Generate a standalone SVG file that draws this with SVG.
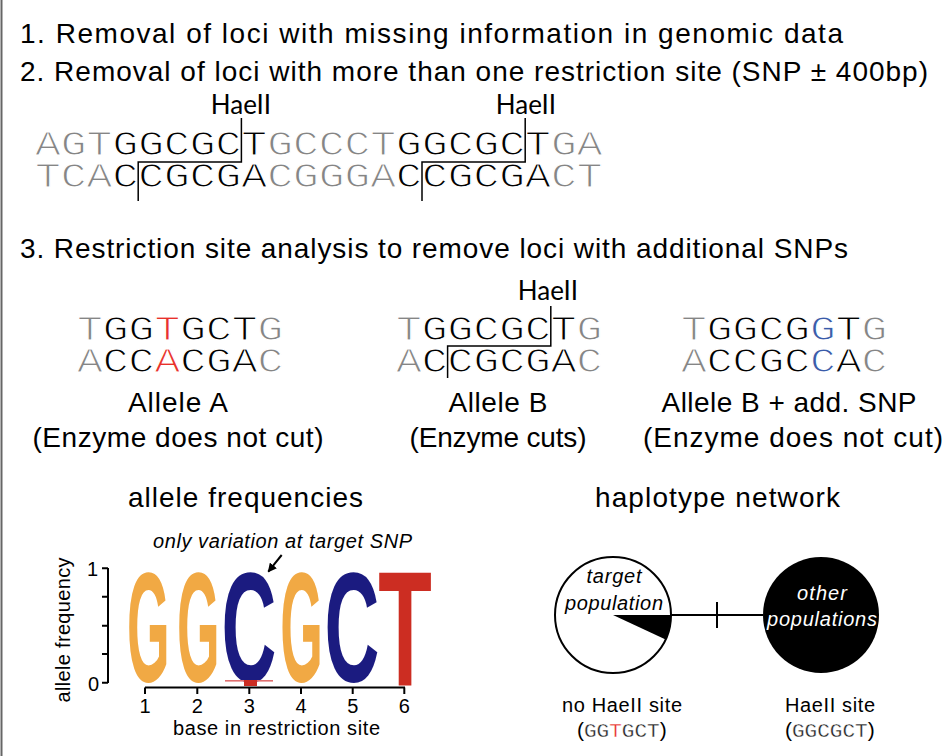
<svg xmlns="http://www.w3.org/2000/svg" width="952" height="756" viewBox="0 0 952 756">
<defs>
<style>
.h{font-family:"Liberation Sans",Arial,sans-serif;font-size:28px;fill:#000}
.lab{font-family:"Liberation Sans",Arial,sans-serif;font-size:28px;fill:#000;text-anchor:middle}
.sm{font-family:"Liberation Sans",Arial,sans-serif;font-size:20px;fill:#000}
.it{font-family:"Liberation Sans",Arial,sans-serif;font-size:20px;font-style:italic;text-anchor:middle}
.mono{font-family:"Liberation Mono","Courier New",monospace;font-size:43px;stroke:#fff;stroke-width:1.4px}
.mono2{font-family:"Liberation Mono","Courier New",monospace;font-size:21px;fill:#222;stroke:#fff;stroke-width:0.35px}
.enz{font-family:Lato,"Open Sans",sans-serif;font-size:26px;text-anchor:middle;fill:#000}
.g{fill:#858585}.k{fill:#000}.r{fill:#e8302a}.b{fill:#3a5ba9}
.cut{stroke:#000;stroke-width:1.5;fill:none}
.ax{stroke:#000;stroke-width:2;fill:none}
.logo{font-family:"Liberation Sans",Arial,sans-serif;font-weight:bold;font-size:100px;text-anchor:middle}
.og{fill:#f1a944}.nv{fill:#1b1b80}.rd{fill:#cc2d22}
</style>
<marker id="ah" viewBox="0 0 10 10" refX="9" refY="5" markerWidth="9" markerHeight="9" orient="auto" markerUnits="userSpaceOnUse">
<path d="M0,0 L10,5 L0,10 z" fill="#000"/>
</marker>
</defs>
<rect x="0" y="0" width="952" height="756" fill="#fff"/>
<line x1="1.5" y1="0" x2="1.5" y2="756" stroke="#666" stroke-width="2"/>

<g id="steps">
<text class="h" x="20" y="43" textLength="823">1. Removal of loci with missing information in genomic data</text>
<text class="h" x="20" y="81" textLength="908">2. Removal of loci with more than one restriction site (SNP ± 400bp)</text>
<text class="h" x="20" y="258" textLength="828">3. Restriction site analysis to remove loci with additional SNPs</text>
</g>

<g id="sequence-two-sites">
<text class="enz" x="241" y="114">HaeII</text>
<text class="enz" x="526" y="114">HaeII</text>
<text class="mono" transform="translate(35,155) scale(1,0.81)"><tspan class="g">AGT</tspan><tspan class="k">GGCGCT</tspan><tspan class="g">GCCCT</tspan><tspan class="k">GGCGCT</tspan><tspan class="g">GA</tspan></text>
<text class="mono" transform="translate(35,187) scale(1,0.81)"><tspan class="g">TCA</tspan><tspan class="k">CCGCGA</tspan><tspan class="g">CGGGA</tspan><tspan class="k">CCGCGA</tspan><tspan class="g">CT</tspan></text>
<path class="cut" d="M241.4,118 V162 H138.2 V201"/>
<path class="cut" d="M525.2,118 V162 H422 V201"/>
</g>

<g id="allele-a">
<text class="mono" transform="translate(77,340) scale(1,0.81)"><tspan class="g">T</tspan><tspan class="k">GG</tspan><tspan class="r">T</tspan><tspan class="k">GCT</tspan><tspan class="g">G</tspan></text>
<text class="mono" transform="translate(77,372) scale(1,0.81)"><tspan class="g">A</tspan><tspan class="k">CC</tspan><tspan class="r">A</tspan><tspan class="k">CGA</tspan><tspan class="g">C</tspan></text>
<text class="lab" x="178" y="412" textLength="100">Allele A</text>
<text class="lab" x="178" y="447" textLength="291">(Enzyme does not cut)</text>
</g>

<g id="allele-b">
<text class="enz" x="548" y="300">HaeII</text>
<text class="mono" transform="translate(396,340) scale(1,0.81)"><tspan class="g">T</tspan><tspan class="k">GGCGCT</tspan><tspan class="g">G</tspan></text>
<text class="mono" transform="translate(396,372) scale(1,0.81)"><tspan class="g">A</tspan><tspan class="k">CCGCGA</tspan><tspan class="g">C</tspan></text>
<path class="cut" d="M550.8,306 V346 H447.6 V378"/>
<text class="lab" x="498" y="412" textLength="99">Allele B</text>
<text class="lab" x="498" y="447" textLength="177">(Enzyme cuts)</text>
</g>

<g id="allele-b-snp">
<text class="mono" transform="translate(681,340) scale(1,0.81)"><tspan class="g">T</tspan><tspan class="k">GGCG</tspan><tspan class="b">G</tspan><tspan class="k">T</tspan><tspan class="g">G</tspan></text>
<text class="mono" transform="translate(681,372) scale(1,0.81)"><tspan class="g">A</tspan><tspan class="k">CCGC</tspan><tspan class="b">C</tspan><tspan class="k">A</tspan><tspan class="g">C</tspan></text>
<text class="lab" x="789" y="412" textLength="255">Allele B + add. SNP</text>
<text class="lab" x="793" y="447" textLength="300">(Enzyme does not cut)</text>
</g>

<g id="allele-frequencies">
<text class="lab" x="245.5" y="507" textLength="235">allele frequencies</text>
<text class="sm" x="153" y="548" font-style="italic" textLength="259">only variation at target SNP</text>
<text class="sm" transform="translate(70,630) rotate(-90)" text-anchor="middle" font-size="19" textLength="145">allele frequency</text>
<path class="ax" d="M108,568 V683 M102,568.3 H108 M102,596.7 H108 M102,625.7 H108 M102,654 H108 M102,682.7 H108"/>
<text class="sm" x="98" y="576" text-anchor="end" font-size="21">1</text>
<text class="sm" x="99" y="691" text-anchor="end" font-size="21">0</text>
<path class="ax" d="M145,687.5 H405 M145,687.5 V694 M197.3,687.5 V694 M249.3,687.5 V694 M301,687.5 V694 M352.7,687.5 V694 M404.3,687.5 V694"/>
<g class="sm" text-anchor="middle" font-size="21">
<text x="145" y="713">1</text>
<text x="197.3" y="713">2</text>
<text x="249.3" y="713">3</text>
<text x="301" y="713">4</text>
<text x="352.7" y="713">5</text>
<text x="404.3" y="713">6</text>
</g>
<text class="sm" x="276.5" y="735" text-anchor="middle" textLength="207">base in restriction site</text>
<text class="logo og" transform="translate(148.3,681) scale(0.548,1.554)">G</text>
<text class="logo og" transform="translate(198.3,681) scale(0.548,1.554)">G</text>
<text class="logo nv" transform="translate(249,681) scale(0.76,1.554)">C</text>
<text class="logo og" transform="translate(301.5,681) scale(0.548,1.554)">G</text>
<text class="logo nv" transform="translate(352,681) scale(0.76,1.554)">C</text>
<text class="logo rd" transform="translate(405,685) scale(0.877,1.634)">T</text>
<rect x="225" y="680" width="48" height="1.6" fill="#e07070"/>
<rect x="244" y="680" width="13" height="6" fill="#cc2d22"/>
<line x1="281.7" y1="555" x2="268.3" y2="571.7" stroke="#000" stroke-width="2" marker-end="url(#ah)"/>
</g>

<g id="haplotype-network-title">
<text class="lab" x="717.5" y="507" textLength="245">haplotype network</text>
</g>

<g id="connectors">
<line x1="671" y1="615" x2="763" y2="615" stroke="#000" stroke-width="2"/>
<line x1="717" y1="602" x2="717" y2="628" stroke="#000" stroke-width="2"/>
</g>

<g id="node-target">
<circle cx="613" cy="615" r="58" fill="#fff" stroke="#000" stroke-width="2"/>
<path d="M613,615 L671,615 A58,58 0 0,1 665.6,639.5 Z" fill="#000"/>
<text class="it" x="614" y="583" textLength="55">target</text>
<text class="it" x="614" y="610" textLength="98">population</text>
<text class="sm" x="622" y="712" text-anchor="middle" textLength="120">no HaeII site</text>
<text y="737" font-size="21"><tspan x="577" font-family="Liberation Sans, Arial, sans-serif">(</tspan><tspan class="mono2">GG</tspan><tspan class="mono2" style="fill:#e8302a">T</tspan><tspan class="mono2">GCT</tspan><tspan font-family="Liberation Sans, Arial, sans-serif">)</tspan></text>
</g>

<g id="node-other">
<circle cx="821" cy="615" r="58" fill="#000"/>
<text class="it" x="822" y="600" fill="#fff" textLength="50">other</text>
<text class="it" x="822" y="626" fill="#fff" textLength="110">populations</text>
<text class="sm" x="830" y="712" text-anchor="middle" textLength="90">HaeII site</text>
<text y="737" font-size="21"><tspan x="785" font-family="Liberation Sans, Arial, sans-serif">(</tspan><tspan class="mono2">GGCGCT</tspan><tspan font-family="Liberation Sans, Arial, sans-serif">)</tspan></text>
</g>
</svg>
